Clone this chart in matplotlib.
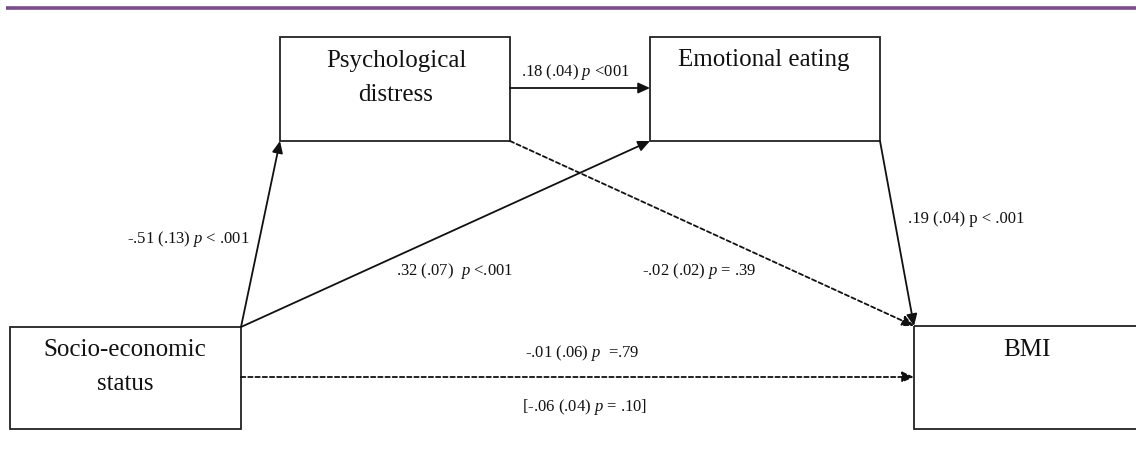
import matplotlib
matplotlib.use("Agg")
import matplotlib.pyplot as plt
from matplotlib.patches import Rectangle, FancyArrowPatch

# ---- data ----
node_names = ["Psychological\ndistress", "Emotional eating", "Socio-economic\nstatus", "BMI"]
path_labels = [
    r"-.51 (.13) $\it{p}$ < .001",
    r".32 (.07)  $\it{p}$ <.001",
    r".18 (.04) $\it{p}$ <001",
    r".19 (.04) p < .001",
    r"-.02 (.02) $\it{p}$ = .39",
    r"-.01 (.06) $\it{p}$  =.79",
    r"[-.06 (.04) $\it{p}$ = .10]",
]

# ---- layout (pixels) ----
W, H = 1136, 460
boxes = {
    "PD": (280, 38, 230, 104),
    "EE": (650, 38, 230, 104),
    "SES": (10, 328, 231, 102),
    "BMI": (914, 327, 240, 103),
}
text_pos = {
    "PD": (396, 78),
    "EE": (764, 60),
    "SES": (125, 367),
    "BMI": (1027, 350),
}

plt.rcParams['font.family'] = ['Liberation Serif', 'DejaVu Serif']
plt.rcParams['mathtext.fontset'] = 'custom'
plt.rcParams['mathtext.it'] = 'Liberation Serif:italic'
plt.rcParams['mathtext.rm'] = 'Liberation Serif'

fig = plt.figure(figsize=(W / 100, H / 100), dpi=100)
ax = fig.add_axes([0, 0, 1, 1])
ax.set_xlim(0, W)
ax.set_ylim(H, 0)
ax.axis("off")

# purple rule
ax.plot([6, W], [9, 9], color="#7a4c8c", lw=2.6, solid_capstyle="butt")

keys = ["PD", "EE", "SES", "BMI"]
for k, name in zip(keys, node_names):
    x, y, w, h = boxes[k]
    ax.add_patch(Rectangle((x, y), w, h, fill=False, ec="#222222", lw=1.3))
    tx, ty = text_pos[k]
    ax.text(tx, ty, name, ha="center", va="center", fontsize=18, linespacing=1.65, color="#111111")

def arrow(p0, p1, dashed=False):
    a = FancyArrowPatch(p0, p1, arrowstyle="-|>,head_length=7,head_width=3.2",
                        mutation_scale=1, lw=1.3, color="#111111",
                        linestyle=(0, (2.4, 1.6)) if dashed else "-",
                        shrinkA=0, shrinkB=0)
    ax.add_patch(a)

arrow((241, 328), (280, 142))
arrow((241, 328), (650, 142))
arrow((510, 89), (650, 89))
arrow((880, 142), (914, 327))
arrow((510, 142), (914, 327), dashed=True)
arrow((241, 378), (914, 378), dashed=True)

lab_pos = [
    (188, 239),
    (455, 271),
    (575, 72),
    (966, 219),
    (699, 271),
    (582, 353),
    (585, 407),
]
for lab, (x, y) in zip(path_labels, lab_pos):
    ax.text(x, y, lab, ha="center", va="center", fontsize=12, color="#111111")

fig.savefig("out.png", dpi=100)
